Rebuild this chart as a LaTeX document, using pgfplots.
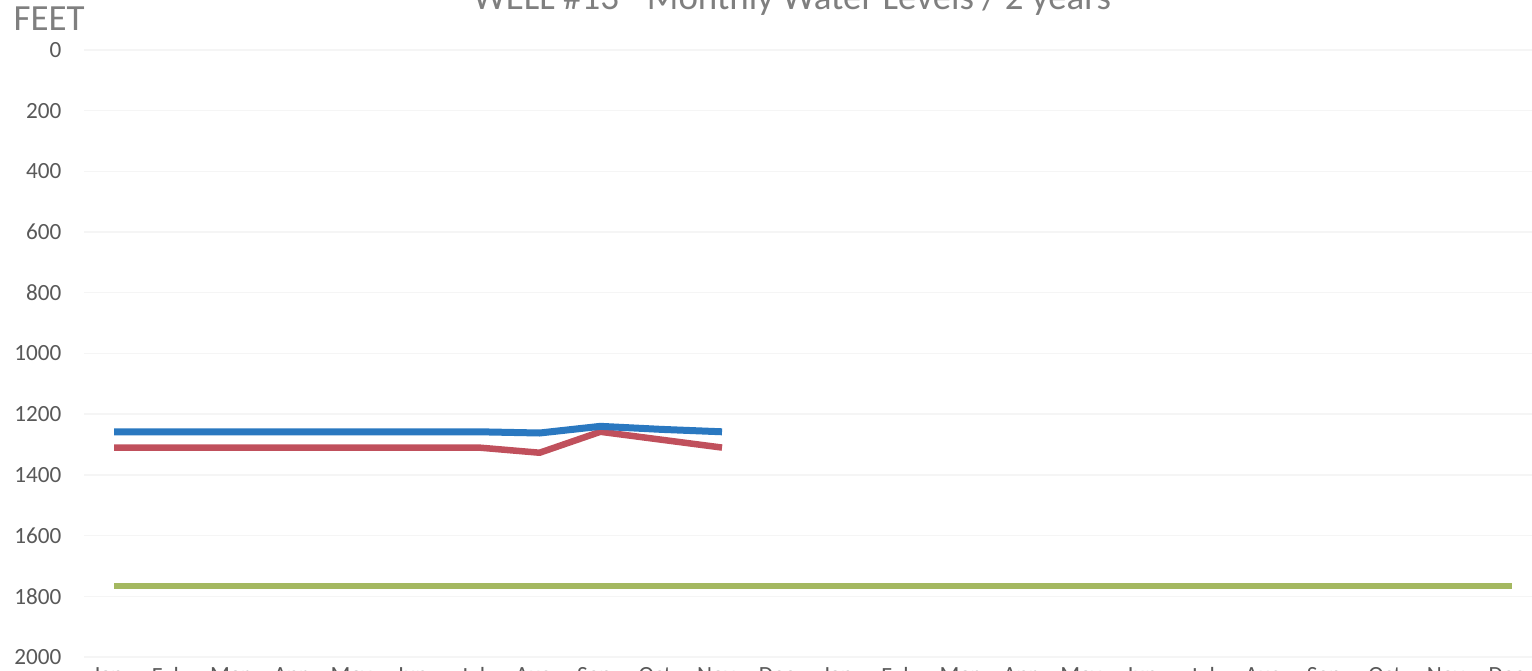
\documentclass[border=0pt]{standalone}
\usepackage{fontspec}
\setmainfont{Carlito}
\usepackage{pgfplots}
\pgfplotsset{compat=1.18}
\definecolor{wblue}{HTML}{2A78C0}
\definecolor{wred}{HTML}{C0505C}
\definecolor{wgreen}{HTML}{A4B860}
\definecolor{txt}{HTML}{595959}
\definecolor{ttl}{HTML}{7F7F7F}
\begin{document}
\begin{tikzpicture}
\useasboundingbox (0,0) rectangle (153.2mm,-67.1mm);
\clip (0,0) rectangle (153.2mm,-67.1mm);
\begin{axis}[
  at={(81.32mm,-35.35mm)}, anchor=center,
  width=145.92mm, height=60.7mm, scale only axis,
  xmin=-0.5, xmax=23.5, ymin=0, ymax=2000, y dir=reverse,
  ytick={0,200,...,2000},
  xtick={0,...,23},
  xticklabels={Jan,Feb,Mar,Apr,May,Jun,Jul,Aug,Sep,Oct,Nov,Dec,Jan,Feb,Mar,Apr,May,Jun,Jul,Aug,Sep,Oct,Nov,Dec},
  axis line style={draw=none},
  major tick length=0pt,
  ymajorgrids, grid style={color=black!4, line width=0.4pt},
  tick label style={font=\fontsize{6.6}{7}\selectfont, text=txt},
  yticklabel style={anchor=east, inner sep=0pt, xshift=-2.16mm},
  xticklabel style={anchor=north, inner sep=0pt, yshift=-1.0mm, xshift=-0.6mm},
  /pgf/number format/assume math mode=true,
  /pgf/number format/set thousands separator={},
  clip=false,
]
\addplot[wgreen, line width=0.6mm] coordinates {
(0,1766) (1,1766) (2,1766) (3,1766) (4,1766) (5,1766) (6,1766) (7,1766)
(8,1766) (9,1766) (10,1766) (11,1766) (12,1766) (13,1766) (14,1766) (15,1766)
(16,1766) (17,1766) (18,1766) (19,1766) (20,1766) (21,1766) (22,1766) (23,1766)};
\addplot[wred, line width=0.65mm, line join=round] coordinates {
(0,1310) (1,1310) (2,1310) (3,1310) (4,1310) (5,1310) (6,1310) (7,1327)
(8,1258) (9,1284) (10,1310)};
\addplot[wblue, line width=0.7mm, line join=round] coordinates {
(0,1258) (1,1258) (2,1258) (3,1258) (4,1258) (5,1258) (6,1258) (7,1262)
(8,1240) (9,1250) (10,1258)};
\end{axis}
\node[anchor=base, text=ttl, font=\fontsize{10.5}{12}\selectfont, inner sep=0pt] at (79.2mm,-1.0mm) {WELL \#13 - Monthly Water Levels / 2 years};
\node[anchor=base west, text=ttl, font=\fontsize{10.5}{12}\selectfont, inner sep=0pt] at (1.3mm,-3.1mm) {FEET};
\end{tikzpicture}
\end{document}
